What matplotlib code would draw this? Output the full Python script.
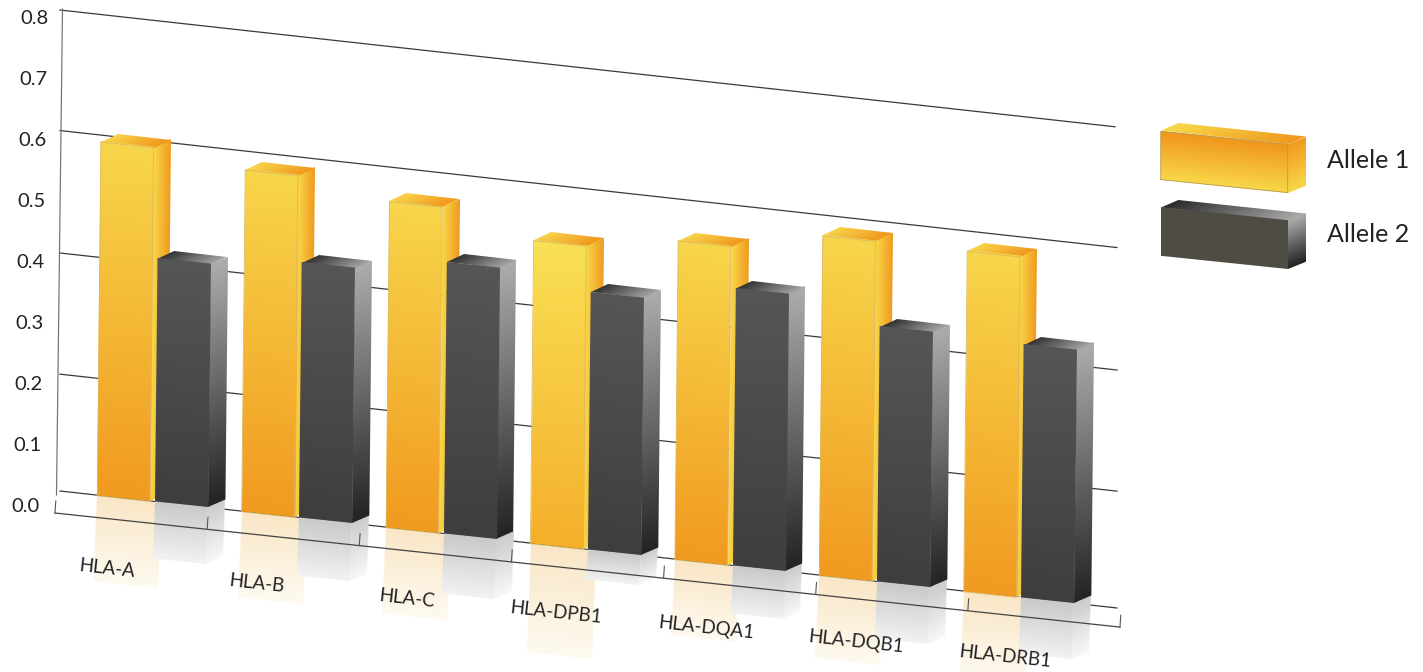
import numpy as np
import matplotlib
matplotlib.use("Agg")
import matplotlib.pyplot as plt
from matplotlib.colors import to_rgba
from matplotlib.transforms import Affine2D

plt.rcParams['font.family'] = ['Lato', 'DejaVu Sans']

categories = ["HLA-A", "HLA-B", "HLA-C", "HLA-DPB1", "HLA-DQA1", "HLA-DQB1", "HLA-DRB1"]
allele1 = [0.588, 0.568, 0.542, 0.504, 0.530, 0.565, 0.566]
allele2 = [0.403, 0.423, 0.451, 0.427, 0.460, 0.423, 0.420]
series_names = ["Allele 1", "Allele 2"]
value_ticks = [0.0, 0.1, 0.2, 0.3, 0.4, 0.5, 0.6, 0.7, 0.8]
grid_values = [0.0, 0.2, 0.4, 0.6, 0.8]

# small pixel offsets of the hand placed grid lines
grid_nudge = [0, 3.4, 2.5, 0.3, 0]
grid_end = [1, 1, 1, 1, 0.998]

# length of the mirror image under each bar, in pixels
refl1 = [85, 85, 85, 108, 75, 82, 85]
refl2 = [57, 58, 60, 30, 48, 57, 56]

# orange bars are not all shaded alike
a1_low = ["#F19A20", "#F19A20", "#F19A20", "#F5AF2B", "#F19A20", "#F19A20", "#F19A20"]
a1_high = ["#F8D64C", "#F8D64C", "#F8D64C", "#F9E055", "#F8D64C", "#F8D64C", "#F8D64C"]

# the whole chart is a tilted sheet: value/category -> pixel
bar_tr = Affine2D.from_values(144.4, 16.0, 6.2, -601.5, 97.3, 495.7)
wall_tr = Affine2D.from_values(1057, 117, 0, -601.25, 60, 491)
axis_tr = Affine2D.from_values(1, 0, 7.5, -607.5, 56.5, 495)
floor_tr = Affine2D.from_values(152.14, 16.3, 0, 1, 55, 513)
ylab_tr = Affine2D.from_values(1, 0, 10.6, -610, 26, 506.5)
xlab_tr = Affine2D.from_values(149.7, 14.6, 0, 1, 107, 569)

WIDTH = np.array([52.6, 5.6])
DEPTH = np.array([17.0, -7.5])
GAP = np.array([57.7, 6.0])

fig = plt.figure(figsize=(14.23, 6.72), dpi=100)
ax = fig.add_axes([0, 0, 1, 1])
ax.axis("off")


def face(origin, u, v, c0, c1, along="v", z=3):
    # gradient filled parallelogram, c0 at the origin side, c1 at the far side
    t = np.linspace(0, 1, 256)[:, None]
    rgba = (1 - t) * np.array(to_rgba(c0)) + t * np.array(to_rgba(c1))
    img = rgba[:, None, :] if along == "v" else rgba[None, :, :]
    tr = Affine2D.from_values(u[0], u[1], v[0], v[1], origin[0], origin[1]) + ax.transData
    ax.imshow(img, extent=(0, 1, 0, 1), origin="lower", aspect="auto", transform=tr,
              interpolation="bilinear", zorder=z)


def box_edge(origin, u, v, color, z):
    p = np.array([origin, origin + u, origin + u + v, origin + v, origin])
    ax.plot(p[:, 0], p[:, 1], color=color, lw=0.6, zorder=z, solid_joinstyle="miter")


# grid lines and the value axis
for k, v in enumerate(grid_values):
    p = wall_tr.transform([[0, v], [grid_end[k], v]])
    ax.plot(p[:, 0], p[:, 1] + grid_nudge[k], color="#3a3a3a", lw=0.9, zorder=1)
p = axis_tr.transform([[0, 0], [0, 0.8]])
ax.plot(p[:, 0], p[:, 1], color="#777777", lw=0.9, zorder=1)

for v in value_ticks:
    x, y = ylab_tr.transform([[0, v]])[0]
    ax.text(x, y, "%.1f" % v, ha="center", va="center", fontsize=14.5, color="#222222", zorder=6)

# mirror images on the floor
for i in range(len(categories)):
    o1 = bar_tr.transform([[i, 0]])[0]
    o2 = o1 + GAP
    face(o1, WIDTH + np.array([12, 1.3]), np.array([-4, refl1[i]]), "#F9E6C6", "#FEFAF0", z=1.5)
    face(o2, WIDTH, np.array([-2, refl2[i]]), "#C9C9C9", "#F2F2F2", z=1.6)
    face(o2 + WIDTH, DEPTH, np.array([-2, refl2[i]]), "#CCCCCC", "#F8F8F8", z=1.6)

# floor lines and category ticks, over the mirror images
p = floor_tr.transform([[0, 0], [7, 0]])
ax.plot(p[:, 0], p[:, 1], color="#444444", lw=0.9, zorder=2)
for i in range(len(categories) + 1):
    t = floor_tr.transform([[i, 0]])[0]
    ax.plot([t[0], t[0] + 0.8], [t[1], t[1] - 12], color="#555555", lw=0.8, zorder=2)

# bars, left to right
for i in range(len(categories)):
    base = bar_tr.transform([[i, 0]])[0]
    top = bar_tr.transform([[i, allele1[i]]])[0]
    up = top - base
    face(base + WIDTH, DEPTH, up, "#F9D84A", "#F09A1E", along="u")
    face(top, WIDTH, DEPTH, "#F9D24A", "#F0981E", along="u")
    face(base, WIDTH, up, a1_low[i], a1_high[i])
    box_edge(base, WIDTH, up, "#D8B860", 3)

    top = bar_tr.transform([[i, allele2[i]]])[0]
    up = top - base
    base2 = base + GAP
    top2 = base2 + up
    face(base2 + WIDTH, DEPTH, up, "#242424", "#ACACAC", z=4)
    face(top2, WIDTH, DEPTH, "#333333", "#A4A4A4", along="u", z=4)
    face(base2, WIDTH, up, "#3E3E3E", "#565656", z=4)

for i, name in enumerate(categories):
    x, y = xlab_tr.transform([[i, 0]])[0]
    ax.text(x, y, name, rotation=-6.3, rotation_mode="anchor", ha="center", va="center",
            fontsize=13.5, color="#222222", zorder=6)

# legend
ufront = np.array([127.0, 13.0])
vfront = np.array([0.0, -48.3])
ldepth = np.array([17.3, -7.2])
o = np.array([1160.7, 179.6])
face(o + ufront, ldepth, vfront, "#F9D84A", "#F09A1E")
face(o + vfront, ufront, ldepth, "#F9D84A", "#F0981E", along="u")
face(o, ufront, vfront, "#F9D84A", "#F0951C")
box_edge(o, ufront, vfront, "#B89A50", 3)
o = np.array([1160.7, 256.4])
face(o + ufront, ldepth, vfront, "#222222", "#ACACAC")
face(o + vfront, ufront, ldepth, "#2A2A2A", "#AAAAAA", along="u")
face(o, ufront, vfront, "#4F4C44", "#4F4C44")
ax.text(1327, 160, series_names[0], ha="left", va="center", fontsize=18, color="#222222", zorder=6)
ax.text(1327, 235, series_names[1], ha="left", va="center", fontsize=18, color="#222222", zorder=6)

ax.set_xlim(0, 1423)
ax.set_ylim(672, 0)
fig.savefig("out.png", dpi=100)
